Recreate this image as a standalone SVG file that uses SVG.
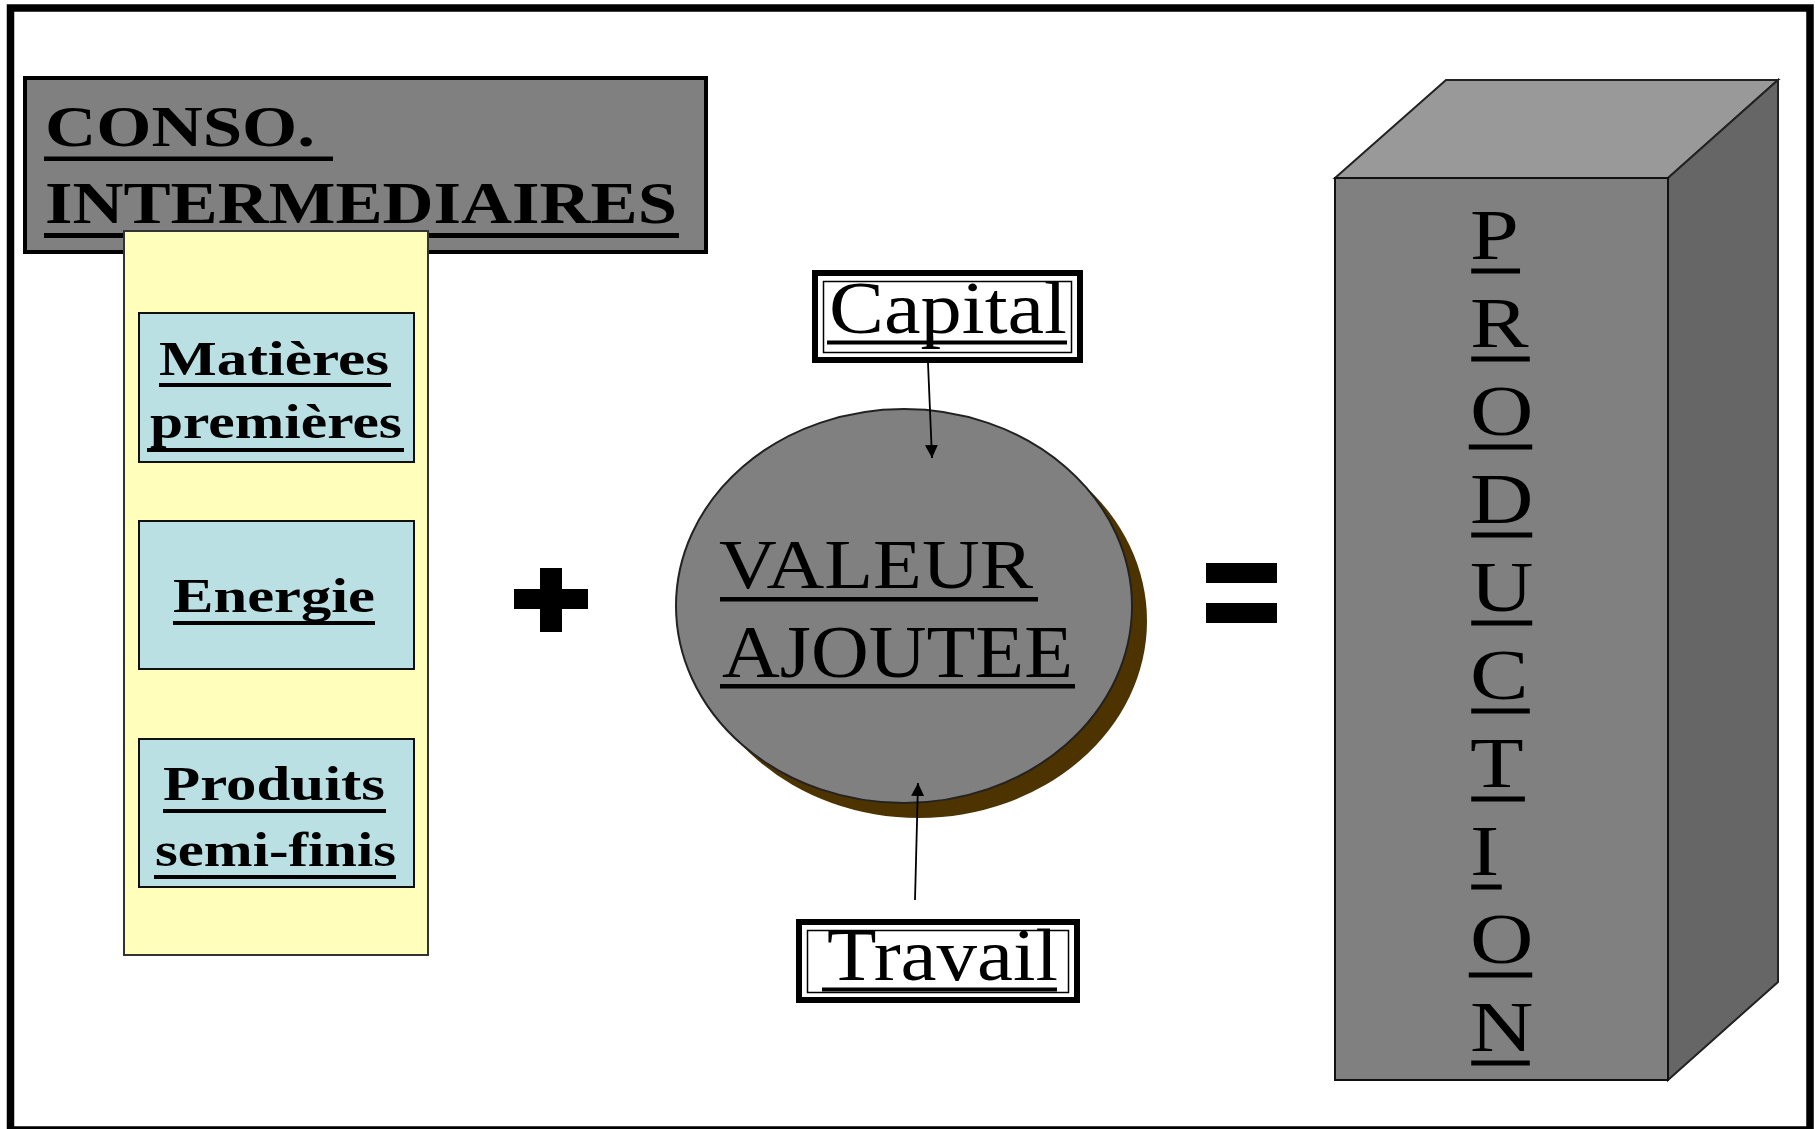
<svg xmlns="http://www.w3.org/2000/svg" width="1815" height="1129" viewBox="0 0 1815 1129">
  <style>
    .serif { font-family: "Liberation Serif", "Times New Roman", serif; fill: #000; }
    .bold { font-weight: bold; }
    .ul { fill: #000; }
    .item { fill: #BBE0E3; stroke: #111; stroke-width: 2; }
    .frame { fill: #fff; stroke: #000; }
  </style>
  <defs>
    <marker id="arrow" viewBox="0 0 10 10" refX="10" refY="5" markerWidth="13" markerHeight="13" markerUnits="userSpaceOnUse" orient="auto">
      <path d="M0,0 L10,5 L0,10 z" fill="#000"/>
    </marker>
  </defs>

  <!-- page border -->
  <rect x="10.5" y="8" width="1799.5" height="1122" fill="#fff" stroke="#000" stroke-width="7.5"/>

  <!-- intermediate consumption header -->
  <g id="conso">
    <rect x="25" y="78" width="681" height="174" fill="#808080" stroke="#000" stroke-width="4"/>
    <text class="serif bold" x="45" y="146" font-size="58" textLength="270" lengthAdjust="spacingAndGlyphs">CONSO.</text>
    <rect class="ul" x="44" y="156.5" width="289" height="4.5"/>
    <text class="serif bold" x="45" y="223" font-size="59" textLength="632" lengthAdjust="spacingAndGlyphs">INTERMEDIAIRES</text>
    <rect class="ul" x="44" y="233" width="635" height="5"/>
  </g>

  <!-- list of intermediate inputs -->
  <g id="inputs">
    <rect x="124" y="231" width="304" height="724" fill="#FFFFBB" stroke="#333" stroke-width="2"/>
  </g>

  <g id="matieres">
    <rect class="item" x="139" y="313" width="275" height="149"/>
    <text class="serif bold" x="159" y="375" font-size="49" textLength="230" lengthAdjust="spacingAndGlyphs">Matières</text>
    <rect class="ul" x="159" y="383" width="232" height="4"/>
    <text class="serif bold" x="150" y="438" font-size="49" textLength="252" lengthAdjust="spacingAndGlyphs">premières</text>
    <rect class="ul" x="147" y="448" width="257" height="4"/>
  </g>

  <g id="energie">
    <rect class="item" x="139" y="521" width="275" height="148"/>
    <text class="serif bold" x="173" y="612" font-size="49" textLength="202" lengthAdjust="spacingAndGlyphs">Energie</text>
    <rect class="ul" x="173" y="621" width="202" height="4"/>
  </g>

  <g id="produits">
    <rect class="item" x="139" y="739" width="275" height="148"/>
    <text class="serif bold" x="163" y="800" font-size="49" textLength="222" lengthAdjust="spacingAndGlyphs">Produits</text>
    <rect class="ul" x="163" y="809" width="223" height="4"/>
    <text class="serif bold" x="155" y="866" font-size="49" textLength="241" lengthAdjust="spacingAndGlyphs">semi-finis</text>
    <rect class="ul" x="154" y="875" width="242" height="4"/>
  </g>

  <!-- plus sign -->
  <g id="plus">
    <rect x="540" y="568" width="22" height="64" fill="#000"/>
    <rect x="514" y="589" width="74" height="20" fill="#000"/>
  </g>

  <!-- value added disc with drop shadow -->
  <g id="valeur">
    <ellipse cx="919" cy="621" rx="228" ry="197" fill="#4D3300"/>
    <ellipse cx="904" cy="606" rx="228" ry="197" fill="#808080" stroke="#222" stroke-width="2"/>
    <text class="serif" x="719" y="588" font-size="70" textLength="314" lengthAdjust="spacingAndGlyphs">VALEUR</text>
    <rect class="ul" x="720" y="597" width="318" height="4.5"/>
    <text class="serif" x="722" y="677" font-size="74" textLength="351" lengthAdjust="spacingAndGlyphs">AJOUTEE</text>
    <rect class="ul" x="720" y="684" width="355" height="4.5"/>
  </g>

  <g id="capital">
    <rect x="815" y="273" width="265" height="87" fill="#fff" stroke="#000" stroke-width="6"/>
    <rect x="823.5" y="281.5" width="248" height="71" fill="none" stroke="#000" stroke-width="1.5"/>
    <text class="serif" x="829" y="333" font-size="75" textLength="238" lengthAdjust="spacingAndGlyphs">Capital</text>
    <rect class="ul" x="827" y="340.5" width="240" height="4"/>
  </g>

  <g id="travail">
    <rect x="799" y="922" width="278" height="78" fill="#fff" stroke="#000" stroke-width="6"/>
    <rect x="807.5" y="930.5" width="261" height="62" fill="none" stroke="#000" stroke-width="1.5"/>
    <text class="serif" x="827" y="980" font-size="73" textLength="231" lengthAdjust="spacingAndGlyphs">Travail</text>
    <rect class="ul" x="822" y="987.5" width="235" height="4"/>
  </g>

  <!-- connectors -->
  <g id="connectors" stroke="#000" stroke-width="1.8" fill="none">
    <line x1="928" y1="363" x2="932" y2="458" marker-end="url(#arrow)"/>
    <line x1="915" y1="900" x2="918" y2="783" marker-end="url(#arrow)"/>
  </g>

  <!-- equals sign -->
  <g id="equals">
    <rect x="1206" y="563" width="71" height="20" fill="#000"/>
    <rect x="1206" y="603" width="71" height="20" fill="#000"/>
  </g>

  <!-- production block -->
  <g id="production">
    <polygon points="1335,178 1446,80 1778,80 1668,178" fill="#999999" stroke="#222" stroke-width="2"/>
    <polygon points="1668,178 1778,80 1778,982 1668,1080" fill="#666666" stroke="#222" stroke-width="2"/>
    <rect x="1335" y="178" width="333" height="902" fill="#808080" stroke="#111" stroke-width="2"/>
    <g transform="translate(1470,0) scale(1.22,1)">
      <g class="serif" font-size="72">
        <text x="0" y="259">P</text>
        <text x="0" y="347">R</text>
        <text x="0" y="435">O</text>
        <text x="0" y="523">D</text>
        <text x="0" y="611">U</text>
        <text x="0" y="699">C</text>
        <text x="0" y="787">T</text>
        <text x="0" y="875">I</text>
        <text x="0" y="963">O</text>
        <text x="0" y="1051">N</text>
      </g>
      <rect class="ul" x="1" y="268.5" width="40" height="5"/>
      <rect class="ul" x="1" y="356.5" width="48" height="5"/>
      <rect class="ul" x="-1" y="444.5" width="52" height="5"/>
      <rect class="ul" x="1" y="532.5" width="50" height="5"/>
      <rect class="ul" x="1" y="620.5" width="50" height="5"/>
      <rect class="ul" x="1" y="708.5" width="48" height="5"/>
      <rect class="ul" x="1" y="796.5" width="44" height="5"/>
      <rect class="ul" x="1" y="884.5" width="25" height="5"/>
      <rect class="ul" x="-1" y="972.5" width="52" height="5"/>
      <rect class="ul" x="1" y="1060.5" width="48" height="5"/>
    </g>
  </g>
</svg>
